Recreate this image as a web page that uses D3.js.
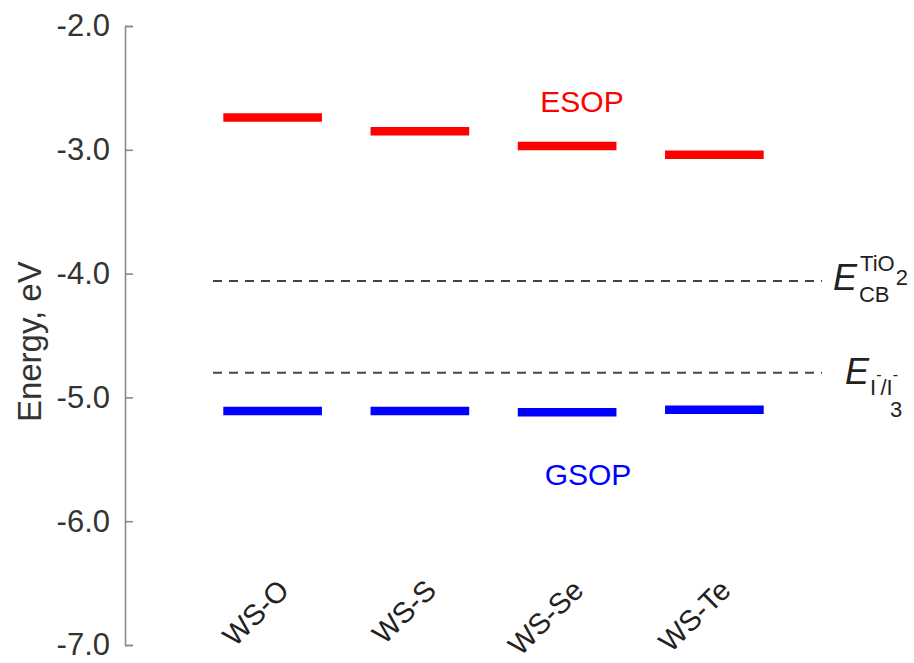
<!DOCTYPE html>
<html>
<head>
<meta charset="utf-8">
<script src="https://cdn.jsdelivr.net/npm/d3@7"></script>
<style>
  html, body { margin: 0; padding: 0; background: #fff; }
  svg { display: block; font-family: "Liberation Sans", Arial, Helvetica, sans-serif; }
</style>
</head>
<body>
<svg id="chart" width="914" height="663"></svg>
<script>
// Frontier orbital energy levels of the four WS dyes
const dyes = ["WS-O", "WS-S", "WS-Se", "WS-Te"];
const esop = [-2.74, -2.85, -2.97, -3.04];   // excited-state oxidation potential, eV
const gsop = [-5.11, -5.11, -5.12, -5.10];   // ground-state oxidation potential, eV
const yTicks = [-2, -3, -4, -5, -6, -7];
const refLevels = [-4.06, -4.80];            // TiO2 conduction band, I-/I3- redox couple

const svg = d3.select("#chart");

const y = d3.scaleLinear().domain([-7, -2]).range([645, 26]);
const x = d3.scaleBand().domain(dyes).range([199, 788])
  .paddingInner(0.33).paddingOuter(0.165);

// y axis with inward ticks
const yAxis = svg.append("g")
  .attr("transform", "translate(125,0)")
  .call(d3.axisLeft(y).tickValues(yTicks).tickFormat(d3.format(".1f"))
    .tickSizeInner(-8).tickSizeOuter(-8).tickPadding(15));
yAxis.select(".domain").attr("stroke", "#8a8a8a").attr("stroke-width", 1.6);
yAxis.selectAll(".tick line").attr("stroke", "#8a8a8a").attr("stroke-width", 1.6);
yAxis.selectAll(".tick text")
  .attr("fill", "#333").attr("font-size", 31)
  .attr("font-family", "'Liberation Sans', Arial, sans-serif")
  .text(d => d3.format(".1f")(d).replace("−", "-"));

svg.append("text")
  .attr("transform", `translate(41,${y(-4.55)}) rotate(-90)`)
  .attr("text-anchor", "middle")
  .attr("font-size", 33).attr("fill", "#333")
  .text("Energy, eV");

// reference levels (dashed)
svg.selectAll("line.ref").data(refLevels).enter().append("line")
  .attr("class", "ref")
  .attr("x1", 213).attr("x2", 822)
  .attr("y1", d => y(d)).attr("y2", d => y(d))
  .attr("stroke", "#444").attr("stroke-width", 2)
  .attr("stroke-dasharray", "9,7");

// ESOP and GSOP levels
svg.selectAll("line.esop").data(dyes).enter().append("line")
  .attr("class", "esop")
  .attr("x1", d => x(d)).attr("x2", d => x(d) + x.bandwidth())
  .attr("y1", (d, i) => y(esop[i])).attr("y2", (d, i) => y(esop[i]))
  .attr("stroke", "#ff0000").attr("stroke-width", 8.5);

svg.selectAll("line.gsop").data(dyes).enter().append("line")
  .attr("class", "gsop")
  .attr("x1", d => x(d)).attr("x2", d => x(d) + x.bandwidth())
  .attr("y1", (d, i) => y(gsop[i])).attr("y2", (d, i) => y(gsop[i]))
  .attr("stroke", "#0000ff").attr("stroke-width", 8.5);

svg.append("text").attr("x", 582).attr("y", 112)
  .attr("text-anchor", "middle").attr("font-size", 30).attr("fill", "#ff0000")
  .text("ESOP");
svg.append("text").attr("x", 588).attr("y", 485)
  .attr("text-anchor", "middle").attr("font-size", 30).attr("fill", "#0000ff")
  .text("GSOP");

// category labels, rotated
svg.selectAll("text.cat").data(dyes).enter().append("text")
  .attr("class", "cat")
  .attr("transform", d => `translate(${x(d) + x.bandwidth() / 2 + 18},${592}) rotate(-45)`)
  .attr("text-anchor", "end")
  .attr("font-size", 29).attr("fill", "#222")
  .text(d => d);

// labels of the reference levels
const tio2 = svg.append("text").attr("x", 833).attr("y", y(refLevels[0]) + 9)
  .attr("fill", "#222").attr("font-size", 36);
tio2.append("tspan").attr("font-style", "italic").text("E");
tio2.append("tspan").attr("font-size", 22).attr("dx", 3).attr("dy", -19).text("TiO");
tio2.append("tspan").attr("font-size", 22).attr("dx", 1).attr("dy", 14).text("2");
tio2.append("tspan").attr("font-size", 22).attr("dx", -49).attr("dy", 17).text("CB");

const redox = svg.append("text").attr("x", 845).attr("y", y(refLevels[1]) + 11)
  .attr("fill", "#222").attr("font-size", 36);
redox.append("tspan").attr("font-style", "italic").text("E");
redox.append("tspan").attr("font-size", 22).attr("dx", 1).attr("dy", 11).text("I");
redox.append("tspan").attr("font-size", 16).attr("dx", 0).attr("dy", -15).text("-");
redox.append("tspan").attr("font-size", 22).attr("dx", -1).attr("dy", 15).text("/I");
redox.append("tspan").attr("font-size", 16).attr("dx", 0).attr("dy", -15).text("-");
redox.append("tspan").attr("font-size", 22).attr("dx", -8).attr("dy", 37).text("3");
</script>
</body>
</html>
